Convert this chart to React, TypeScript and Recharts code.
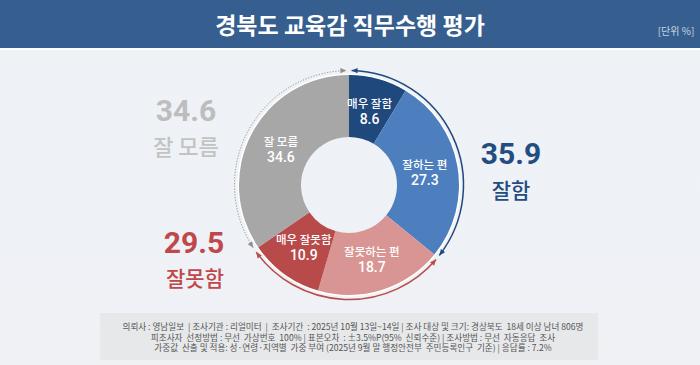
import React from 'react';
import { PieChart, Pie, Cell } from 'recharts';

const sliceNames = ['매우 잘함', '잘하는 편', '잘못하는 편', '매우 잘못함', '잘 모름'];
const sliceValues = [8.6, 27.3, 18.7, 10.9, 34.6];
const sliceColors = ['#1f487d', '#4d7fbf', '#d99593', '#b94a4a', '#a7a7a7'];

const groupNames = ['잘함', '잘못함', '잘 모름'];
const groupValues = [35.9, 29.5, 34.6];
const groupColors = ['#1f487d', '#b94a4a', '#8e8e8e'];
const groupDashed = [false, false, true];

const title = '경북도 교육감 직무수행 평가';
const unitLabel = '[단위 %]';
const footerLines = [
  '의뢰사 : 영남일보  | 조사기관 : 리얼미터  |  조사기간  : 2025년 10월 13일~14일 | 조사 대상 및 크기: 경상북도  18세 이상 남녀 806명',
  '피조사자  선정방법 : 무선  가상번호  100% | 표본오차  : ±3.5%P(95%  신뢰수준) | 조사방법 : 무선  자동응답  조사',
  '가중값  산출 및 적용: 성·연령·지역별  가중 부여 (2025년 9월 말 행정안전부  주민등록인구  기준) | 응답률 : 7.2%',
];

const sliceData = sliceNames.map((name, i) => ({ name, value: sliceValues[i] }));
const groupData = groupNames.map((name, i) => ({ name, value: groupValues[i] }));
const ringData = [{ name: 'ring', value: 1 }];

const FONT = "'Noto Sans CJK KR', 'Noto Sans', sans-serif";
const NUM_FONT = "Roboto, 'Noto Sans', sans-serif";
const RAD = Math.PI / 180;

const CX = 349;
const CY = 185;
const INNER = 48;
const OUTER = 110;
const ARC_R = 114.5;

const renderSliceLabel = (props: any) => {
  const { cx, cy, midAngle, index } = props;
  const r = 77;
  const x = cx + r * Math.cos(-midAngle * RAD);
  const y = cy + r * Math.sin(-midAngle * RAD);
  return (
    <g>
      <text x={x} y={y - 3} textAnchor="middle" fill="#ffffff" fontFamily={FONT} fontSize={11.5} fontWeight={500}>
        {sliceNames[index]}
      </text>
      <text x={x} y={y + 13} textAnchor="middle" fill="#ffffff" fontFamily={NUM_FONT} fontSize={14} fontWeight={500}>
        {sliceValues[index].toFixed(1)}
      </text>
    </g>
  );
};

const pt = (cx: number, cy: number, r: number, a: number) => [
  cx + r * Math.cos(-a * RAD),
  cy + r * Math.sin(-a * RAD),
];

const arrow = (cx: number, cy: number, r: number, a: number, sign: number, color: string) => {
  const [px, py] = pt(cx, cy, r, a);
  const dx = Math.sin(a * RAD) * sign;
  const dy = Math.cos(a * RAD) * sign;
  const L = 6;
  const W = 2.6;
  const bx = px - dx * L;
  const by = py - dy * L;
  const nx = -dy;
  const ny = dx;
  return (
    <polygon
      points={`${px},${py} ${bx + nx * W},${by + ny * W} ${bx - nx * W},${by - ny * W}`}
      fill={color}
    />
  );
};

const renderGroupArc = (props: any) => {
  const { cx, cy, midAngle, percent, index } = props;
  const span = percent * 360;
  const pad = 1.3;
  const a1 = midAngle + span / 2 - pad;
  const a2 = midAngle - span / 2 + pad;
  const [x1, y1] = pt(cx, cy, ARC_R, a1);
  const [x2, y2] = pt(cx, cy, ARC_R, a2);
  const large = a1 - a2 > 180 ? 1 : 0;
  const color = groupColors[index];
  return (
    <g>
      <path
        d={`M${x1},${y1} A${ARC_R},${ARC_R} 0 ${large} 1 ${x2},${y2}`}
        fill="none"
        stroke={color}
        strokeWidth={groupDashed[index] ? 1 : 1.5}
        strokeDasharray={groupDashed[index] ? '1.2 1.6' : undefined}
      />
      {arrow(cx, cy, ARC_R, a1, -1, color)}
      {arrow(cx, cy, ARC_R, a2, 1, color)}
    </g>
  );
};

const center = (left: number, top: number): React.CSSProperties => ({
  position: 'absolute',
  left,
  top,
  transform: 'translate(-50%, -50%)',
  lineHeight: 1,
  whiteSpace: 'nowrap',
  fontFamily: FONT,
});

export default function App() {
  return (
    <div
      style={{
        position: 'absolute',
        left: 0,
        top: 0,
        width: 700,
        height: 365,
        overflow: 'hidden',
        background: 'linear-gradient(180deg, #eef2f7 0%, #eff1f5 100%)',
        fontFamily: FONT,
      }}
    >
      <div
        style={{
          position: 'absolute',
          left: 0,
          top: 0,
          width: 700,
          height: 48,
          background: '#365f8f',
          borderBottom: '2px solid #ffffff',
        }}
      />
      <div style={{ ...center(350, 24), color: '#ffffff', fontSize: 23, fontWeight: 600 }}>{title}</div>
      <div style={{ ...center(676, 31), color: '#c9d4e3', fontSize: 10 }}>{unitLabel}</div>

      <div
        style={{
          position: 'absolute',
          left: 100,
          top: 313,
          width: 498,
          height: 47,
          background: '#e7e8ea',
        }}
      />
      {footerLines.map((line, i) => (
        <div
          key={i}
          style={{ ...center(353, 326 + i * 10.5), color: '#555555', fontSize: 8.6, whiteSpace: 'pre' }}
        >
          {line}
        </div>
      ))}

      <div style={{ position: 'absolute', left: 0, top: 0 }}>
        <PieChart width={700} height={365} margin={{ top: 0, right: 0, bottom: 0, left: 0 }}>
          <Pie
            data={ringData}
            dataKey="value"
            cx={CX}
            cy={CY}
            innerRadius={OUTER - 1}
            outerRadius={OUTER + 1.5}
            startAngle={90}
            endAngle={-270}
            fill="#ffffff"
            stroke="none"
            isAnimationActive={false}
          />
          <Pie
            data={sliceData}
            dataKey="value"
            cx={CX}
            cy={CY}
            innerRadius={INNER}
            outerRadius={OUTER}
            startAngle={90}
            endAngle={-270}
            stroke="none"
            label={renderSliceLabel}
            labelLine={false}
            isAnimationActive={false}
          >
            {sliceData.map((d, i) => (
              <Cell key={d.name} fill={sliceColors[i]} />
            ))}
          </Pie>
          <Pie
            data={groupData}
            dataKey="value"
            cx={CX}
            cy={CY}
            innerRadius={ARC_R}
            outerRadius={ARC_R}
            startAngle={90}
            endAngle={-270}
            fill="none"
            stroke="none"
            label={renderGroupArc}
            labelLine={false}
            isAnimationActive={false}
          />
        </PieChart>
      </div>

      <div style={{ ...center(186, 111), color: '#bdbdbd', fontSize: 30, fontWeight: 700, fontFamily: NUM_FONT }}>{groupValues[2].toFixed(1)}</div>
      <div style={{ ...center(186, 145), color: '#c3c3c3', fontSize: 22, fontWeight: 500 }}>{groupNames[2]}</div>
      <div style={{ ...center(194, 243), color: '#c0474a', fontSize: 30, fontWeight: 700, fontFamily: NUM_FONT }}>{groupValues[1].toFixed(1)}</div>
      <div style={{ ...center(195, 277), color: '#c0474a', fontSize: 21, fontWeight: 500 }}>{groupNames[1]}</div>
      <div style={{ ...center(511, 154), color: '#234c80', fontSize: 30, fontWeight: 700, fontFamily: NUM_FONT }}>{groupValues[0].toFixed(1)}</div>
      <div style={{ ...center(511, 189), color: '#234c80', fontSize: 21, fontWeight: 500 }}>{groupNames[0]}</div>
    </div>
  );
}
